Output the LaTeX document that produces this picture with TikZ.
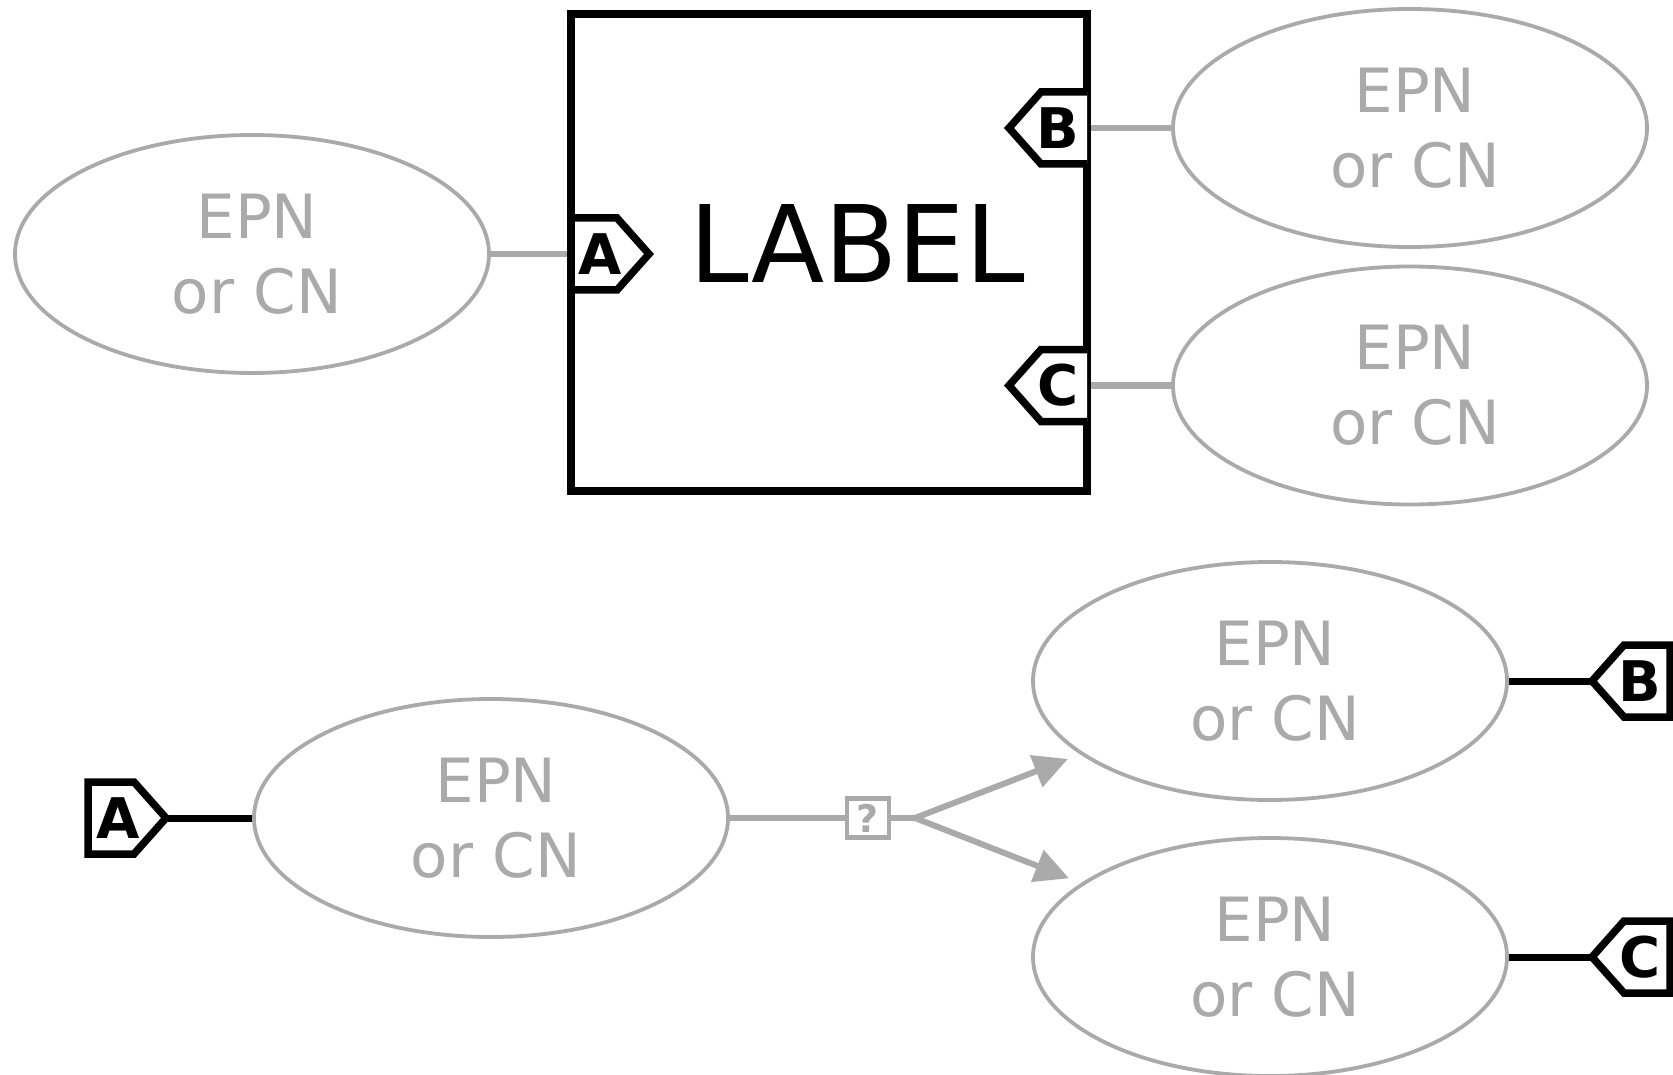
\documentclass[tikz,border=0pt]{standalone}
\usepackage{fontspec}
\setmainfont{DejaVu Sans}
\usetikzlibrary{shapes.geometric,arrows.meta}
\definecolor{epngray}{RGB}{170,170,170}
\newcommand{\epntext}{\hspace*{10pt}EPN\\\hspace*{10pt}or CN}
\begin{document}
\begin{tikzpicture}[x=1pt,y=-1pt,
  epn/.style={ellipse, draw=epngray, line width=3.8pt, text=epngray, minimum width=474pt, minimum height=238pt, inner sep=0pt, align=center, font=\fontsize{61}{75}\selectfont},
  link/.style={draw=epngray, line width=6.5pt},
  blink/.style={draw=black, line width=7pt},
  tagbody/.style={minimum width=46pt, minimum height=72pt, inner sep=0pt, outer sep=0pt},
  tagletter/.style={font=\bfseries\fontsize{56}{56}\selectfont, inner sep=0pt},
  tagline/.style={draw=black, line width=7.5pt, fill=white, line join=miter},
  procbox/.style={draw, line width=8.5pt, minimum width=516pt, minimum height=477pt, inner sep=0pt},
  qbox/.style={draw=epngray, fill=white, line width=4.2pt, minimum width=42pt, minimum height=39pt, inner sep=0pt, text=epngray, font=\bfseries\fontsize{38}{38}\selectfont},
  arr/.style={draw=epngray, line width=6pt, -{Triangle[length=34pt,width=33pt]}, shorten >=13pt}
]
\path[use as bounding box, fill=white] (0,0) rectangle (1673,1075);

% ---------- top part ----------
\node[procbox] (box) at (829,252.5) {};
\node[font=\fontsize{107}{107}\selectfont, inner sep=0pt] (label) at (857,243) {LABEL};

\node[epn] (e1) at (252,254) {\epntext};
\node[epn] (e2) at (1410,128) {\epntext};
\node[epn] (e3) at (1410,385.5) {\epntext};

\draw[link] (e1.east) -- (e1.east -| box.west);
\draw[link] (e2.west) -- (e2.west -| box.east);
\draw[link] (e3.west) -- (e3.west -| box.east);

% tag A on box
\node[tagbody] (tA) at (594,254) {};
\coordinate (tAtip) at ([xshift=32pt]tA.east);
\draw[tagline] (tA.north west) -- (tA.north east) -- (tAtip) -- (tA.south east) -- (tA.south west) -- cycle;
\node[tagletter] (tAl) at ([xshift=6pt]tA.center) {A};

% tag B on box
\node[tagbody] (tB) at (1064,128) {};
\coordinate (tBtip) at ([xshift=-32pt]tB.west);
\draw[tagline] (tB.north east) -- (tB.north west) -- (tBtip) -- (tB.south west) -- (tB.south east);
\node[tagletter] (tBl) at ([xshift=-6pt]tB.center) {B};

% tag C on box
\node[tagbody] (tC) at (1064,385.5) {};
\coordinate (tCtip) at ([xshift=-32pt]tC.west);
\draw[tagline] (tC.north east) -- (tC.north west) -- (tCtip) -- (tC.south west) -- (tC.south east);
\node[tagletter] (tCl) at ([xshift=-6pt]tC.center) {C};

% ---------- bottom part ----------
\node[epn] (e4) at (491,818) {\epntext};
\node[epn] (e5) at (1270,681) {\epntext};
\node[epn] (e6) at (1270,957) {\epntext};

\node[tagbody] (bA) at (111,818) {};
\coordinate (bAtip) at ([xshift=32pt]bA.east);
\node[tagbody] (bB) at (1647,681) {};
\coordinate (bBtip) at ([xshift=-32pt]bB.west);
\node[tagbody] (bC) at (1647,957) {};
\coordinate (bCtip) at ([xshift=-32pt]bC.west);

\draw[blink] (bAtip) -- (e4.west);
\draw[blink] (e5.east) -- (bBtip);
\draw[blink] (e6.east) -- (bCtip);

\draw[tagline] (bA.north west) -- (bA.north east) -- (bAtip) -- (bA.south east) -- (bA.south west) -- cycle;
\node[tagletter] (bAl) at ([xshift=7pt]bA.center) {A};
\draw[tagline] (bB.north east) -- (bB.north west) -- (bBtip) -- (bB.south west) -- (bB.south east) -- cycle;
\node[tagletter] (bBl) at ([xshift=-7pt]bB.center) {B};
\draw[tagline] (bC.north east) -- (bC.north west) -- (bCtip) -- (bC.south west) -- (bC.south east) -- cycle;
\node[tagletter] (bCl) at ([xshift=-7pt]bC.center) {C};

\node[qbox] (q) at (868,818) {?};
\coordinate (split) at (915,818);
\draw[link] (e4.east) -- (q.west);
\draw[link] (q.east) -- (split);
\draw[arr] (split) -- (e5);
\draw[arr] (split) -- (e6);
\end{tikzpicture}
\end{document}
